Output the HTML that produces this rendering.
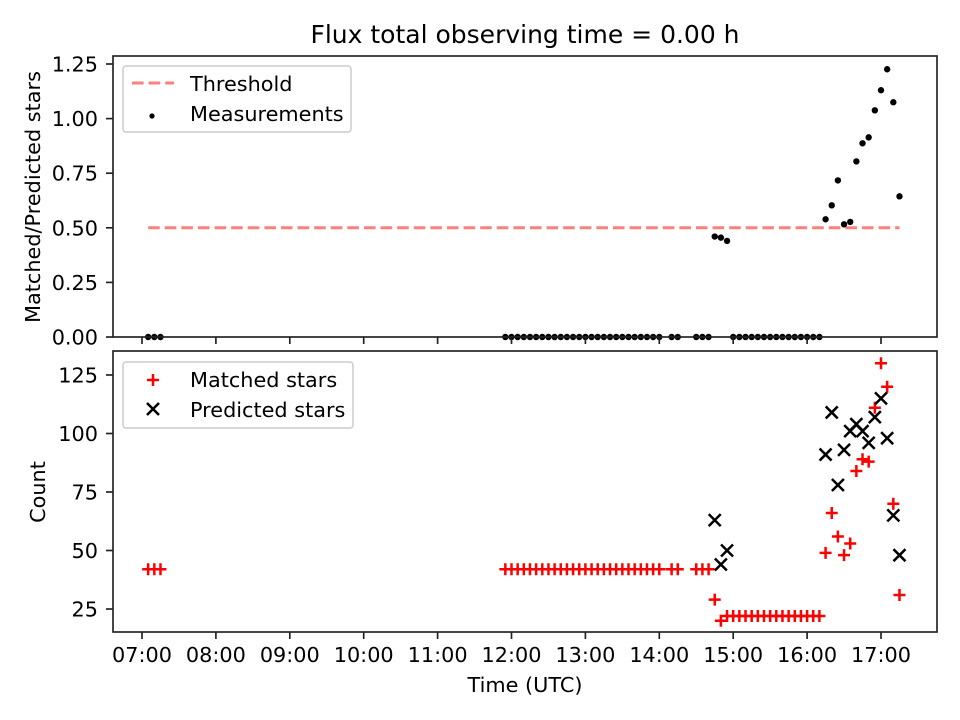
<!DOCTYPE html>
<html><head><meta charset="utf-8"><style>
html,body{margin:0;padding:0;background:#fff}
svg{display:block;font-family:"DejaVu Sans","Liberation Sans",sans-serif}
</style></head><body>
<svg id="c" width="960" height="720" viewBox="0 0 960 720"></svg>
<script>
const times = ["07:05","07:10","07:15",
"11:55","12:00","12:05","12:10","12:15","12:20","12:25","12:30","12:35","12:40","12:45","12:50","12:55","13:00","13:05","13:10","13:15","13:20","13:25","13:30","13:35","13:40","13:45","13:50","13:55","14:00","14:10","14:15","14:30","14:35","14:40",
"14:45","14:50","14:55",
"15:00","15:05","15:10","15:15","15:20","15:25","15:30","15:35","15:40","15:45","15:50","15:55","16:00","16:05","16:10",
"16:15","16:20","16:25","16:30","16:35","16:40","16:45","16:50","16:55","17:00","17:05","17:10","17:15"];
const matched = [42,42,42,
42,42,42,42,42,42,42,42,42,42,42,42,42,42,42,42,42,42,42,42,42,42,42,42,42,42,42,42,42,42,42,
29,20,22,
22,22,22,22,22,22,22,22,22,22,22,22,22,22,22,
49,66,56,48,53,84,89,88,111,130,120,70,31];
const predicted = [null,null,null,
null,null,null,null,null,null,null,null,null,null,null,null,null,null,null,null,null,null,null,null,null,null,null,null,null,null,null,null,null,null,null,
63,44,50,
null,null,null,null,null,null,null,null,null,null,null,null,null,null,null,
91,109,78,93,101,104,101,96,107,115,98,65,48];
const ratio = [0,0,0,
0,0,0,0,0,0,0,0,0,0,0,0,0,0,0,0,0,0,0,0,0,0,0,0,0,0,0,0,0,0,0,
0.46,0.455,0.44,
0,0,0,0,0,0,0,0,0,0,0,0,0,0,0,
0.539,0.603,0.717,0.516,0.527,0.804,0.887,0.914,1.038,1.13,1.226,1.075,0.644];
const threshold = 0.5;
const xTicks = ["07:00","08:00","09:00","10:00","11:00","12:00","13:00","14:00","15:00","16:00","17:00"];
const topTicks = [0,0.25,0.5,0.75,1.0,1.25];
const botTicks = [25,50,75,100,125];

const NS="http://www.w3.org/2000/svg";
const svg=document.getElementById('c');
function mk(tag,attrs,parent){const e=document.createElementNS(NS,tag);for(const k in attrs)e.setAttribute(k,attrs[k]);(parent||svg).appendChild(e);return e;}
function hrs(t){const p=t.split(':');return +p[0]+(+p[1])/60;}
const L=113,R=937,T1=56,B1=337,T2=351,B2=632;
const FS=20.8;
const x=h=>142+(h-7)*73.9;
const y1=v=>337-v*218.4;
const y2=v=>609-(v-25)*2.34;

let t=mk('text',{x:525,y:43,'text-anchor':'middle','font-size':'25'});t.textContent='Flux total observing time = 0.00 h';


const gTop=mk('g',{});
const thr=mk('line',{x1:x(hrs(times[0])),x2:x(hrs(times[times.length-1])),y1:y1(threshold),y2:y1(threshold),stroke:'#ff7f7f','stroke-width':3,'stroke-dasharray':'11.6,5'},gTop);

times.forEach((tm,i)=>{const c=mk('circle',{cx:x(hrs(tm)),cy:y1(ratio[i]),r:3.2,fill:'#000'},gTop);
});

const gBot=mk('g',{});
times.forEach((tm,i)=>{const cx=x(hrs(tm)),cy=y2(matched[i]);
const p=mk('path',{d:`M${cx-6},${cy}H${cx+6}M${cx},${cy-6}V${cy+6}`,stroke:'#f00','stroke-width':2.5},gBot);
});
times.forEach((tm,i)=>{if(predicted[i]==null)return;const cx=x(hrs(tm)),cy=y2(predicted[i]);
const p=mk('path',{d:`M${cx-6},${cy-6}L${cx+6},${cy+6}M${cx-6},${cy+6}L${cx+6},${cy-6}`,stroke:'#000','stroke-width':2.5},gBot);
});

[[T1,B1,'ratio-axes-frame'],[T2,B2,'count-axes-frame']].forEach(a=>{const r=mk('rect',{x:L,y:a[0],width:R-L,height:a[1]-a[0],fill:'none',stroke:'#222','stroke-width':1.67});
});

xTicks.forEach(tk=>{const xx=x(hrs(tk));
mk('line',{x1:xx,x2:xx,y1:B1,y2:B1+7,stroke:'#222','stroke-width':1.67});
mk('line',{x1:xx,x2:xx,y1:B2,y2:B2+7,stroke:'#222','stroke-width':1.67});
const tt=mk('text',{x:xx,y:662,'text-anchor':'middle','font-size':FS});tt.textContent=tk;
});
topTicks.forEach(v=>{const yy=y1(v);mk('line',{x1:L-7,x2:L,y1:yy,y2:yy,stroke:'#222','stroke-width':1.67});
const tt=mk('text',{x:98,y:yy+7.5,'text-anchor':'end','font-size':FS});tt.textContent=v.toFixed(2);
});
botTicks.forEach(v=>{const yy=y2(v);mk('line',{x1:L-7,x2:L,y1:yy,y2:yy,stroke:'#222','stroke-width':1.67});
const tt=mk('text',{x:98,y:yy+7.5,'text-anchor':'end','font-size':FS});tt.textContent=v;
});

let a=mk('text',{x:525,y:692,'text-anchor':'middle','font-size':FS});a.textContent='Time (UTC)';

a=mk('text',{x:40,y:197,'text-anchor':'middle','font-size':FS,transform:'rotate(-90 40 197)'});a.textContent='Matched/Predicted stars';

a=mk('text',{x:45,y:492,'text-anchor':'middle','font-size':FS,transform:'rotate(-90 45 492)'});a.textContent='Count';


let lg=mk('g',{});
mk('rect',{x:123,y:66,width:228,height:66,rx:3,fill:'#fff','fill-opacity':0.8,stroke:'#ccc','stroke-width':1.5},lg);
mk('line',{x1:132,x2:174,y1:83,y2:83,stroke:'#ff7f7f','stroke-width':3,'stroke-dasharray':'11.6,5'},lg);
let lt=mk('text',{x:190,y:91,'font-size':FS},lg);lt.textContent='Threshold';

mk('circle',{cx:152,cy:116,r:2.6,fill:'#000'},lg);
lt=mk('text',{x:190,y:121,'font-size':FS},lg);lt.textContent='Measurements';


lg=mk('g',{});
mk('rect',{x:123,y:362,width:230,height:66,rx:3,fill:'#fff','fill-opacity':0.8,stroke:'#ccc','stroke-width':1.5},lg);
mk('path',{d:'M147,380H159M153,374V386',stroke:'#f00','stroke-width':2.5},lg);
lt=mk('text',{x:190,y:387,'font-size':FS},lg);lt.textContent='Matched stars';

mk('path',{d:'M147,403L159,415M147,415L159,403',stroke:'#000','stroke-width':2.5},lg);
lt=mk('text',{x:190,y:417,'font-size':FS},lg);lt.textContent='Predicted stars';

</script>
</body></html>
